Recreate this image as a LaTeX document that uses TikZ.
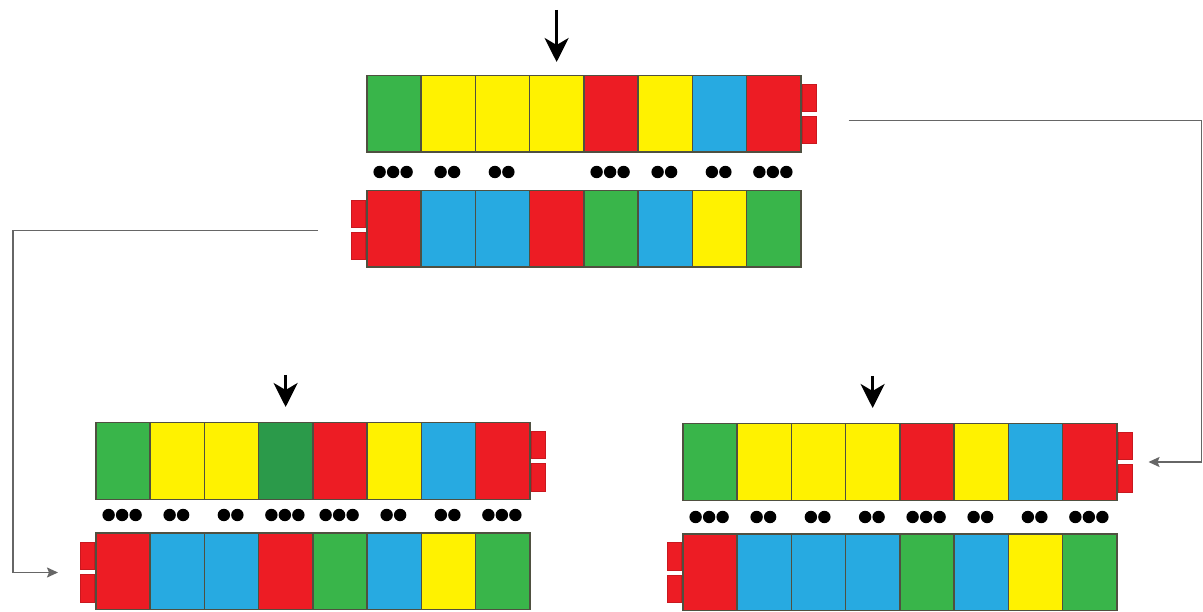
\documentclass[tikz,border=0pt]{standalone}
\usetikzlibrary{arrows.meta}
\definecolor{legogreen}{HTML}{39B54A}
\definecolor{legodkgreen}{HTML}{2B9A4A}
\definecolor{legoyellow}{HTML}{FFF200}
\definecolor{legored}{HTML}{ED1C24}
\definecolor{legoblue}{HTML}{27AAE1}
\definecolor{seam}{HTML}{4F5040}
\definecolor{wire}{HTML}{666666}

\begin{document}
\begin{tikzpicture}[
  x=1pt, y=-1pt,
  cell/.style={draw=seam, line width=1.5pt, minimum width=54.25pt, minimum height=76.5pt, inner sep=0pt, anchor=north west},
  lug/.style={fill=legored, draw=legored!85!black, line width=0.6pt, minimum width=14pt, minimum height=27.5pt, inner sep=0pt},
  feed/.style={-{Stealth[length=24pt,width=24pt,inset=7pt]}, line width=3pt, black},
  link/.style={-{Stealth[length=11pt,width=10pt,inset=2pt]}, wire, line width=1.7pt},
]
\useasboundingbox (0,0) rectangle (1203,612);

% top pair
\foreach \c [count=\i] in {legogreen,legoyellow,legoyellow,legoyellow,legored,legoyellow,legoblue,legored}
  \node[cell, fill=\c] (A-t\i) at (366+54.25*\i-54.25, 75) {};
\foreach \c [count=\i] in {legored,legoblue,legoblue,legored,legogreen,legoblue,legoyellow,legogreen}
  \node[cell, fill=\c] (A-b\i) at (366+54.25*\i-54.25, 190) {};
\node[lug, anchor=south west] (A-lug1) at ([yshift=2pt]A-t8.east) {};
\node[lug, anchor=north west] (A-lug2) at ([yshift=-2pt]A-t8.east) {};
\node[lug, anchor=south east] (A-lug3) at ([yshift=1pt]A-b1.west) {};
\node[lug, anchor=north east] (A-lug4) at ([yshift=-3pt]A-b1.west) {};
\foreach \n [count=\i] in {3,2,2,0,3,2,2,3}{
  \ifnum\n>0
    \foreach \k in {1,...,\n}{\fill (366+54.25*\i-27.125+13.5*\k-6.75*\n-6.75, 172) circle (6.2pt);}
  \fi}

% bottom left pair
\foreach \c [count=\i] in {legogreen,legoyellow,legoyellow,legodkgreen,legored,legoyellow,legoblue,legored}
  \node[cell, fill=\c] (B-t\i) at (95+54.25*\i-54.25, 422) {};
\foreach \c [count=\i] in {legored,legoblue,legoblue,legored,legogreen,legoblue,legoyellow,legogreen}
  \node[cell, fill=\c] (B-b\i) at (95+54.25*\i-54.25, 532) {};
\node[lug, anchor=south west] (B-lug1) at ([yshift=2pt]B-t8.east) {};
\node[lug, anchor=north west] (B-lug2) at ([yshift=-2pt]B-t8.east) {};
\node[lug, anchor=south east] (B-lug3) at ([yshift=1pt]B-b1.west) {};
\node[lug, anchor=north east] (B-lug4) at ([yshift=-3pt]B-b1.west) {};
\foreach \n [count=\i] in {3,2,2,3,3,2,2,3}{
  \ifnum\n>0
    \foreach \k in {1,...,\n}{\fill (95+54.25*\i-27.125+13.5*\k-6.75*\n-6.75, 515) circle (6.2pt);}
  \fi}

% bottom right pair
\foreach \c [count=\i] in {legogreen,legoyellow,legoyellow,legoyellow,legored,legoyellow,legoblue,legored}
  \node[cell, fill=\c] (C-t\i) at (682+54.25*\i-54.25, 423) {};
\foreach \c [count=\i] in {legored,legoblue,legoblue,legoblue,legogreen,legoblue,legoyellow,legogreen}
  \node[cell, fill=\c] (C-b\i) at (682+54.25*\i-54.25, 533) {};
\node[lug, anchor=south west] (C-lug1) at ([yshift=2pt]C-t8.east) {};
\node[lug, anchor=north west] (C-lug2) at ([yshift=-2pt]C-t8.east) {};
\node[lug, anchor=south east] (C-lug3) at ([yshift=1.5pt]C-b1.west) {};
\node[lug, anchor=north east] (C-lug4) at ([yshift=-2.5pt]C-b1.west) {};
\foreach \n [count=\i] in {3,2,2,2,3,2,2,3}{
  \ifnum\n>0
    \foreach \k in {1,...,\n}{\fill (682+54.25*\i-27.125+13.5*\k-6.75*\n-6.75, 517) circle (6.2pt);}
  \fi}

\draw[feed] ([yshift=65pt]A-t4.north) -- ([yshift=13pt]A-t4.north);
\draw[feed] ([yshift=47pt]B-t4.north) -- ([yshift=15pt]B-t4.north);
\draw[feed] ([yshift=47pt]C-t4.north) -- ([yshift=15pt]C-t4.north);

\coordinate (ltail) at ([xshift=-48pt,yshift=-1.5pt]A-b1.west);
\coordinate (lhead) at ([xshift=-37pt,yshift=-1.5pt]B-b1.west);
\coordinate (rtail) at ([xshift=47pt,yshift=-6.5pt]A-t8.east);
\coordinate (rhead) at ([xshift=31pt]C-t8.east);
\draw[link] (ltail) -- ++(-305,0) |- (lhead);
\draw[link] (rtail) -- ++(353,0) |- (rhead);

\end{tikzpicture}
\end{document}
